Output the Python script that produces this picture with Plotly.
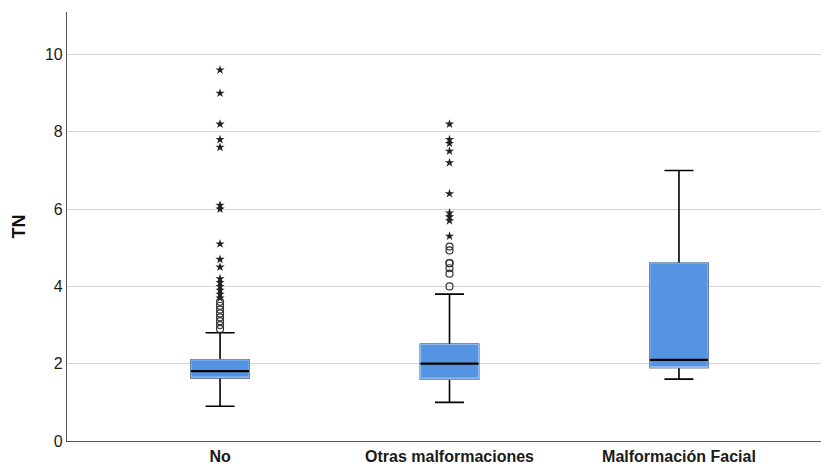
import plotly.graph_objects as go

categories = ["No", "Otras malformaciones", "Malformación Facial"]
q1 = [1.63, 1.6, 1.9]
median = [1.81, 2.0, 2.1]
q3 = [2.1, 2.5, 4.6]
lower_whisker = [0.9, 1.0, 1.6]
upper_whisker = [2.8, 3.8, 7.0]

# outliers (circles) and extreme values (stars)
no_circles = [2.9, 3.0, 3.1, 3.2, 3.3, 3.4, 3.5, 3.6]
no_stars = [3.7, 3.8, 3.9, 4.0, 4.1, 4.2, 4.5, 4.7, 5.1, 6.0, 6.1, 7.6, 7.8, 8.2, 9.0, 9.6]
otras_circles = [4.0, 4.33, 4.47, 4.6, 4.6, 4.93, 5.03]
otras_stars = [5.3, 5.7, 5.8, 5.9, 6.4, 7.2, 7.5, 7.7, 7.8, 8.2]

y_ticks = [0, 2, 4, 6, 8, 10]

BLUE = "#5594e2"
EDGE = "#8fb8ee"
FONT = "Liberation Sans, Arial, sans-serif"

fig = go.Figure()

# whiskers + box (black)
fig.add_trace(go.Box(
    x=categories, q1=q1, median=median, q3=q3,
    lowerfence=lower_whisker, upperfence=upper_whisker,
    fillcolor=BLUE, line=dict(color="black", width=1.6),
    whiskerwidth=0.5, boxpoints=False, showlegend=False, hoverinfo="skip",
))
# box body with light outline covering the black outline
fig.add_trace(go.Box(
    x=categories, q1=q1, median=q1, q3=q3,
    lowerfence=q1, upperfence=q3,
    fillcolor=BLUE, line=dict(color=EDGE, width=1.2),
    whiskerwidth=0, boxpoints=False, showlegend=False, hoverinfo="skip",
))
# median line
fig.add_trace(go.Box(
    x=categories, q1=median, median=median, q3=median,
    lowerfence=median, upperfence=median,
    fillcolor="black", line=dict(color="black", width=2.2),
    whiskerwidth=0, boxpoints=False, showlegend=False, hoverinfo="skip",
))

circ_x = [categories[0]] * len(no_circles) + [categories[1]] * len(otras_circles)
circ_y = no_circles + otras_circles
star_x = [categories[0]] * len(no_stars) + [categories[1]] * len(otras_stars)
star_y = no_stars + otras_stars

fig.add_trace(go.Scatter(
    x=circ_x, y=circ_y, mode="markers",
    marker=dict(symbol="circle-open", size=7, color="#333333", line=dict(width=1.2)),
    showlegend=False, hoverinfo="skip",
))
fig.add_trace(go.Scatter(
    x=star_x, y=star_y, mode="markers",
    marker=dict(symbol="star", size=7, color="#222222", line=dict(width=0)),
    showlegend=False, hoverinfo="skip",
))

fig.update_layout(
    width=821, height=466,
    margin=dict(l=67, r=0, t=12, b=25, pad=0),
    paper_bgcolor="white", plot_bgcolor="white",
    boxmode="overlay", boxgap=0.747, boxgroupgap=0,
    font=dict(family=FONT, size=16, color="#222222"),
    xaxis=dict(
        type="category", categoryorder="array", categoryarray=categories,
        range=[-0.667, 2.619],
        showgrid=False, showline=True, linecolor="#555555", linewidth=1.2,
        ticks="", ticklabelstandoff=1,
        tickfont=dict(family=FONT, size=16, color="#1a1a1a", weight="bold"),
        zeroline=False, fixedrange=True,
    ),
    yaxis=dict(
        range=[0, 11.1], tickvals=y_ticks,
        showgrid=True, gridcolor="#d4d4d4", gridwidth=1.2,
        showline=True, linecolor="#555555", linewidth=1.2,
        ticks="", ticklabelstandoff=0,
        tickfont=dict(family=FONT, size=16, color="#1a1a1a"),
        title=dict(text="TN", font=dict(family=FONT, size=18, color="#111111", weight="bold"), standoff=14),
        zeroline=False, fixedrange=True,
    ),
)

fig.write_html("out.html")
